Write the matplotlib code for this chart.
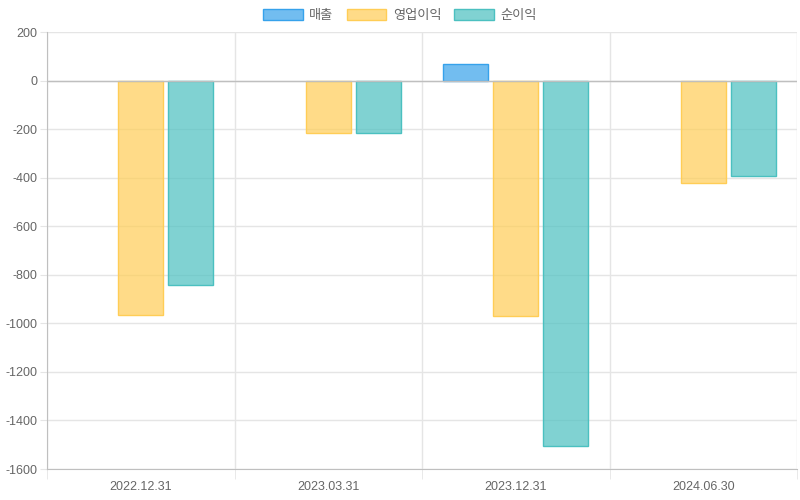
import numpy as np
import matplotlib.pyplot as plt
from matplotlib.patches import Patch

plt.rcParams['font.family'] = ['Liberation Sans', 'Noto Sans CJK KR', 'DejaVu Sans']

periods = ['2022.12.31', '2023.03.31', '2023.12.31', '2024.06.30']
series_names = ['매출', '영업이익', '순이익']
sales = [np.nan, np.nan, 70, np.nan]
op_profit = [-967, -218, -970, -420]
net_profit = [-843, -214, -1505, -395]
yticks = [200, 0, -200, -400, -600, -800, -1000, -1200, -1400, -1600]

colors = [(54/255, 162/255, 235/255), (255/255, 205/255, 86/255), (75/255, 192/255, 192/255)]
values = [sales, op_profit, net_profit]

fig = plt.figure(figsize=(8, 5), dpi=100)
ax = fig.add_axes([47/800, 31/500, 750/800, 437/500])
ax.set_axisbelow(True)

x = np.arange(len(periods))
slot = 0.8 / 3
width = slot * 0.9
for i, (vals, c) in enumerate(zip(values, colors)):
    ax.bar(x + (i - 1) * slot, vals, width, color=c + (0.7,), edgecolor=c, linewidth=1, zorder=3)

ax.set_xlim(-0.5, len(periods) - 0.5)
ax.set_ylim(-1600, 200)
ax.set_yticks(yticks)
ax.set_yticklabels([str(v) for v in yticks])
ax.set_xticks(x)
ax.set_xticklabels(periods)
ax.set_xticks(np.arange(-0.5, len(periods)), minor=True)

grid_c = '#e5e5e5'
ax.grid(axis='y', color=grid_c, linewidth=1)
ax.grid(axis='x', which='minor', color=grid_c, linewidth=1)
ax.axhline(0, color='#bfbfbf', linewidth=1, zorder=4)

ax.tick_params(axis='x', which='major', length=0, pad=9, labelsize=9, labelcolor='#666666')
ax.tick_params(axis='x', which='minor', length=7, color=grid_c)
ax.tick_params(axis='y', length=5, color=grid_c, labelsize=9, labelcolor='#666666', pad=2)

for s in ['top', 'right']:
    ax.spines[s].set_visible(False)
ax.spines['left'].set_color('#bfbfbf')
ax.spines['bottom'].set_color('#bfbfbf')

handles = [Patch(facecolor=c + (0.7,), edgecolor=c, linewidth=1) for c in colors]
fig.legend(handles, series_names, loc='upper center', bbox_to_anchor=(0.5, 1.005), ncol=3,
           frameon=False, fontsize=9.5, labelcolor='#666666', handlelength=3.0, handleheight=0.9,
           handletextpad=0.5, columnspacing=1.0)

fig.savefig('out.png', dpi=100)
